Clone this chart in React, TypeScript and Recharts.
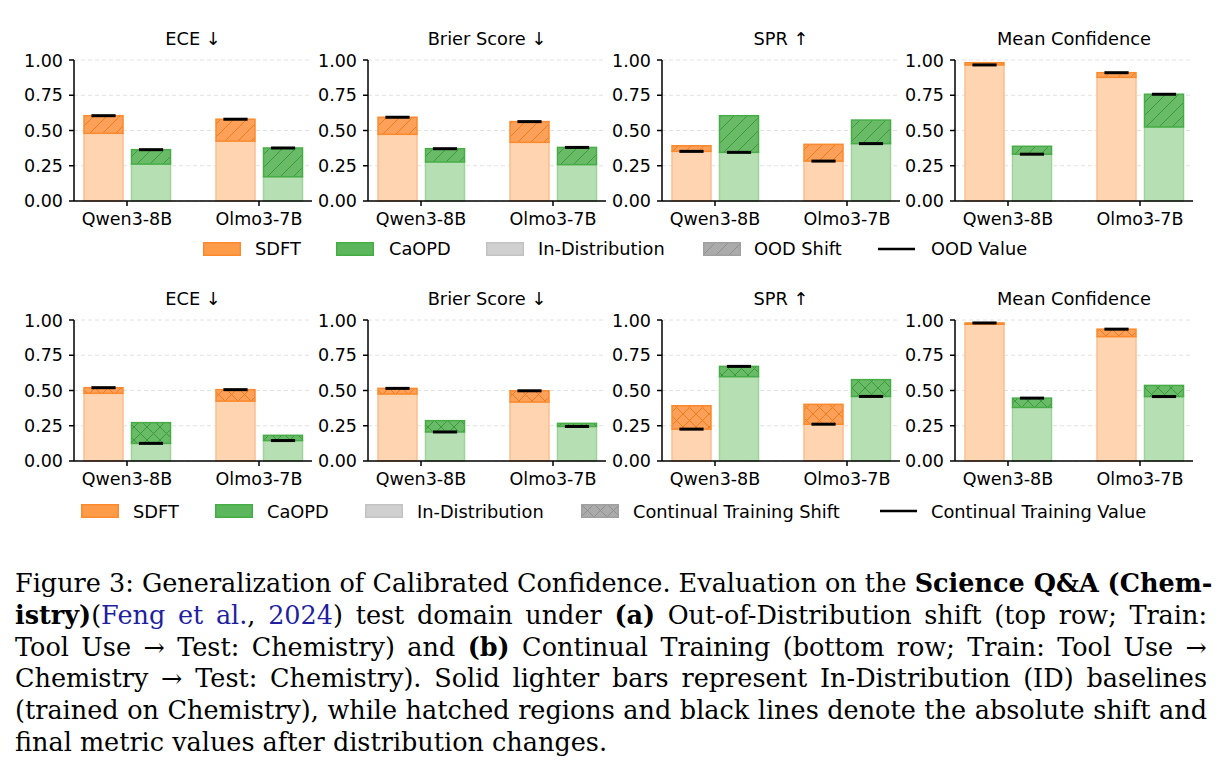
import React from "react";
import { BarChart, Bar, XAxis, YAxis, CartesianGrid } from "recharts";

// ---------------- data ----------------
const models = ["Qwen3-8B", "Olmo3-7B"];
const metricTitles = ["ECE ↓", "Brier Score ↓", "SPR ↑", "Mean Confidence"];
const yTicks = [0, 0.25, 0.5, 0.75, 1];

// Top row (OOD shift): [metric][model]
const oodSdftId = [[0.48, 0.425], [0.473, 0.416], [0.392, 0.402], [0.981, 0.877]];
const oodSdftVal = [[0.605, 0.58], [0.594, 0.563], [0.352, 0.283], [0.965, 0.91]];
const oodCaopdId = [[0.262, 0.172], [0.277, 0.258], [0.605, 0.574], [0.388, 0.525]];
const oodCaopdVal = [[0.364, 0.376], [0.371, 0.38], [0.345, 0.407], [0.332, 0.757]];

// Bottom row (continual training): [metric][model]
const ctSdftId = [[0.48, 0.425], [0.475, 0.418], [0.392, 0.402], [0.97, 0.882]];
const ctSdftVal = [[0.52, 0.506], [0.515, 0.498], [0.226, 0.261], [0.979, 0.935]];
const ctCaopdId = [[0.272, 0.182], [0.286, 0.267], [0.598, 0.577], [0.38, 0.536]];
const ctCaopdVal = [[0.125, 0.145], [0.206, 0.245], [0.671, 0.458], [0.446, 0.457]];

const legendTop = ["SDFT", "CaOPD", "In-Distribution", "OOD Shift", "OOD Value"];
const legendBottom = ["SDFT", "CaOPD", "In-Distribution", "Continual Training Shift", "Continual Training Value"];

// ---------------- styling ----------------
const C = {
  sdftLight: "#ffd4b0",
  sdftLightEdge: "#fdbf90",
  sdftShift: "#fca05a",
  sdftHatch: "#ee7c1a",
  sdftEdge: "#fb8a2c",
  caopdLight: "#b7dfb4",
  caopdLightEdge: "#9ed49b",
  caopdShift: "#6abb68",
  caopdHatch: "#389a38",
  caopdEdge: "#46ad46",
};

const PANEL_LEFTS = [74, 368, 662, 955];
const ROW_TOPS = [60, 320];
const PLOT_W = 238;
const PLOT_H = 141;
const FONT = "'DejaVu Sans', sans-serif";
const TICK_FS = 17.5;

function buildRows(sId: number[], sVal: number[], cId: number[], cVal: number[]) {
  return models.map((model, i) => ({
    model,
    sdftId: sId[i],
    sdftVal: sVal[i],
    sdftBase: Math.min(sId[i], sVal[i]),
    sdftShift: Math.abs(sVal[i] - sId[i]),
    caopdId: cId[i],
    caopdVal: cVal[i],
    caopdBase: Math.min(cId[i], cVal[i]),
    caopdShift: Math.abs(cVal[i] - cId[i]),
  }));
}

function ShiftShape(props: any) {
  const { x, y, width, height, payload, fill, stroke, idKey, valKey } = props;
  const top = Math.min(y, y + height);
  const h = Math.abs(height);
  const id = payload[idKey];
  const val = payload[valKey];
  const lineY = val >= id ? top : top + h;
  const lw = width * 0.62;
  return (
    <g>
      <rect x={x} y={top} width={width} height={h} fill={fill} stroke={stroke} strokeWidth={1.5} />
      <line
        x1={x + (width - lw) / 2}
        x2={x + (width + lw) / 2}
        y1={lineY}
        y2={lineY}
        stroke="#000"
        strokeWidth={3}
      />
    </g>
  );
}

function Hatch({ id, bg, line, cross }: { id: string; bg: string; line: string; cross: boolean }) {
  const s = 13;
  const d1 = `M${-s},${s} L${s},${-s} M0,${s} L${s},0 M0,${2 * s} L${2 * s},0`;
  const d2 = `M${-s},0 L${s},${2 * s} M0,0 L${s},${s} M0,${-s} L${2 * s},${s}`;
  return (
    <pattern id={id} patternUnits="userSpaceOnUse" width={s} height={s}>
      <rect width={s} height={s} fill={bg} />
      <path d={d1} stroke={line} strokeWidth={1} fill="none" />
      {cross && <path d={d2} stroke={line} strokeWidth={1} fill="none" />}
    </pattern>
  );
}

const axisStroke = { stroke: "#000", strokeWidth: 1.5 };

function Panel({ rowIdx, m, data }: { rowIdx: number; m: number; data: any[] }) {
  const left = PANEL_LEFTS[m];
  const top = ROW_TOPS[rowIdx];
  const kind = rowIdx === 0 ? "diag" : "cross";
  return (
    <>
      <div
        style={{
          position: "absolute",
          left,
          top: rowIdx === 0 ? 29 : 289,
          width: PLOT_W,
          height: 20,
          lineHeight: "20px",
          fontSize: 17.8,
          textAlign: "center",
          fontFamily: FONT,
          color: "#000",
          whiteSpace: "nowrap",
        }}
      >
        {metricTitles[m]}
      </div>
      <div style={{ position: "absolute", left: left - 70, top: top - 10 }}>
        <BarChart
          width={70 + PLOT_W + 4}
          height={10 + PLOT_H + 35}
          data={data}
          margin={{ top: 10, right: 4, bottom: 0, left: 0 }}
          barSize={39}
          barGap={8.5}
        >
          <CartesianGrid vertical={false} stroke="#e2e2e2" strokeDasharray="4 3" />
          <XAxis
            dataKey="model"
            type="category"
            padding={{ left: -13, right: -13 }}
            height={35}
            interval={0}
            tickSize={5}
            tickMargin={7}
            tick={{ fill: "#000", fontSize: TICK_FS, fontFamily: FONT }}
            axisLine={axisStroke}
            tickLine={axisStroke}
          />
          <XAxis
            xAxisId="top"
            dataKey="model"
            orientation="top"
            height={0}
            tick={false}
            tickLine={false}
            axisLine={axisStroke}
          />
          <YAxis
            type="number"
            domain={[0, 1]}
            ticks={yTicks}
            tickFormatter={(v: number) => v.toFixed(2)}
            width={70}
            tickSize={5}
            tickMargin={6}
            tick={{ fill: "#000", fontSize: TICK_FS, fontFamily: FONT }}
            axisLine={axisStroke}
            tickLine={axisStroke}
          />
          <YAxis
            yAxisId="right"
            orientation="right"
            type="number"
            domain={[0, 1]}
            width={0}
            tick={false}
            tickLine={false}
            axisLine={axisStroke}
          />
          <Bar
            dataKey="sdftBase"
            stackId="s"
            fill={C.sdftLight}
            stroke={C.sdftLightEdge}
            strokeWidth={1.5}
            isAnimationActive={false}
          />
          <Bar
            dataKey="sdftShift"
            stackId="s"
            fill={`url(#h-sdft-${kind})`}
            stroke={C.sdftEdge}
            isAnimationActive={false}
            shape={(p: any) => <ShiftShape {...p} idKey="sdftId" valKey="sdftVal" />}
          />
          <Bar
            dataKey="caopdBase"
            stackId="c"
            fill={C.caopdLight}
            stroke={C.caopdLightEdge}
            strokeWidth={1.5}
            isAnimationActive={false}
          />
          <Bar
            dataKey="caopdShift"
            stackId="c"
            fill={`url(#h-caopd-${kind})`}
            stroke={C.caopdEdge}
            isAnimationActive={false}
            shape={(p: any) => <ShiftShape {...p} idKey="caopdId" valKey="caopdVal" />}
          />
        </BarChart>
      </div>
    </>
  );
}

function Patch({ fill, stroke }: { fill: string; stroke: string }) {
  return (
    <svg width={38} height={14} style={{ display: "block" }}>
      <rect x={0.75} y={0.75} width={36.5} height={12.5} fill={fill} stroke={stroke} strokeWidth={1.5} />
    </svg>
  );
}

function LegendRow({ labels, row }: { labels: string[]; row: number }) {
  const patchTop = row === 0 ? 242 : 504;
  const textTop = row === 0 ? 239 : 501.5;
  const patchX = row === 0 ? [203, 336, 486, 703, 878] : [81, 215, 365, 581, 880];
  const textX = row === 0 ? [255, 389, 538, 754, 931] : [133, 267, 417, 633, 931];
  const kind = row === 0 ? "diag" : "cross";
  const patches = [
    <Patch fill="#fd9b48" stroke="#fb8a2c" />,
    <Patch fill="#5cb65b" stroke="#46ad46" />,
    <Patch fill="#d0d0d0" stroke="#c2c2c2" />,
    <Patch fill={`url(#h-gray-${kind})`} stroke="#a0a0a0" />,
    <svg width={38} height={14} style={{ display: "block" }}>
      <line x1={0} x2={37} y1={7} y2={7} stroke="#000" strokeWidth={2.6} />
    </svg>,
  ];
  return (
    <>
      {labels.map((lab, i) => (
        <React.Fragment key={lab}>
          <div style={{ position: "absolute", left: patchX[i], top: patchTop }}>{patches[i]}</div>
          <div
            style={{
              position: "absolute",
              left: textX[i],
              top: textTop,
              height: 20,
              lineHeight: "20px",
              fontSize: 17.8,
              fontFamily: FONT,
              whiteSpace: "nowrap",
              color: "#000",
            }}
          >
            {lab}
          </div>
        </React.Fragment>
      ))}
    </>
  );
}

const blue = "#1f1fa0";
const capLine: React.CSSProperties = {
  width: 1192,
  whiteSpace: "nowrap",
  textAlign: "justify",
  textAlignLast: "justify",
  height: 31.8,
  lineHeight: "31.8px",
};

function Caption() {
  return (
    <div
      style={{
        position: "absolute",
        left: 15,
        top: 568,
        fontFamily: "'DejaVu Serif', serif",
        fontSize: 25.5,
        color: "#000",
      }}
    >
      <div style={capLine}>
        Figure 3: Generalization of Calibrated Confidence. Evaluation on the <b>Science Q&amp;A (Chem-</b>
      </div>
      <div style={capLine}>
        <b>istry)</b>(<span style={{ color: blue }}>Feng et al.</span>, <span style={{ color: blue }}>2024</span>)
        test domain under <b>(a)</b> Out-of-Distribution shift (top row; Train:
      </div>
      <div style={capLine}>
        Tool Use → Test: Chemistry) and <b>(b)</b> Continual Training (bottom row; Train: Tool Use →
      </div>
      <div style={capLine}>
        Chemistry → Test: Chemistry). Solid lighter bars represent In-Distribution (ID) baselines
      </div>
      <div style={capLine}>
        (trained on Chemistry), while hatched regions and black lines denote the absolute shift and
      </div>
      <div style={{ ...capLine, textAlign: "left", textAlignLast: "left" }}>
        final metric values after distribution changes.
      </div>
    </div>
  );
}

export default function App() {
  const topRows = metricTitles.map((_, m) => buildRows(oodSdftId[m], oodSdftVal[m], oodCaopdId[m], oodCaopdVal[m]));
  const botRows = metricTitles.map((_, m) => buildRows(ctSdftId[m], ctSdftVal[m], ctCaopdId[m], ctCaopdVal[m]));
  return (
    <div
      style={{
        position: "absolute",
        left: 0,
        top: 0,
        width: 1224,
        height: 780,
        background: "#fff",
        fontFamily: FONT,
        overflow: "hidden",
      }}
    >
      <svg width={0} height={0} style={{ position: "absolute" }}>
        <defs>
          <Hatch id="h-sdft-diag" bg={C.sdftShift} line={C.sdftHatch} cross={false} />
          <Hatch id="h-caopd-diag" bg={C.caopdShift} line={C.caopdHatch} cross={false} />
          <Hatch id="h-sdft-cross" bg={C.sdftShift} line={C.sdftHatch} cross={true} />
          <Hatch id="h-caopd-cross" bg={C.caopdShift} line={C.caopdHatch} cross={true} />
          <Hatch id="h-gray-diag" bg="#ababab" line="#8e8e8e" cross={false} />
          <Hatch id="h-gray-cross" bg="#ababab" line="#8e8e8e" cross={true} />
        </defs>
      </svg>
      {topRows.map((d, m) => (
        <Panel key={"t" + m} rowIdx={0} m={m} data={d} />
      ))}
      {botRows.map((d, m) => (
        <Panel key={"b" + m} rowIdx={1} m={m} data={d} />
      ))}
      <LegendRow labels={legendTop} row={0} />
      <LegendRow labels={legendBottom} row={1} />
      <Caption />
    </div>
  );
}
